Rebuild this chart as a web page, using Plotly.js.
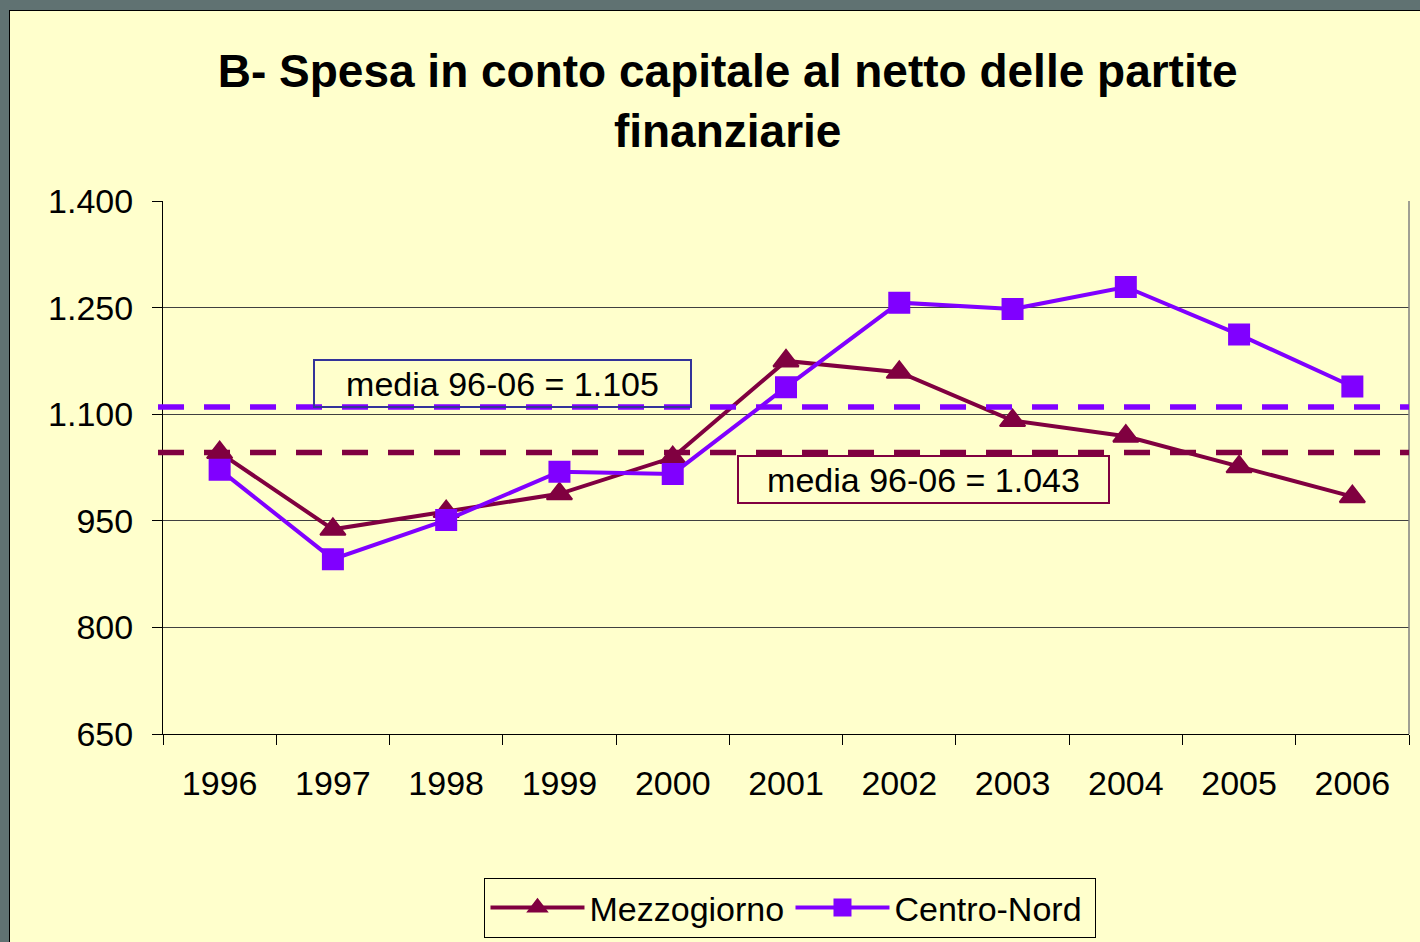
<!DOCTYPE html>
<html>
<head>
<meta charset="utf-8">
<script src="https://cdn.plot.ly/plotly-3.0.1.min.js"></script>
<style>
  html, body { margin: 0; padding: 0; width: 1420px; height: 942px; overflow: hidden; background: #607272; }
  #frame { position: absolute; left: 9px; top: 10px; width: 1411px; height: 932px; border-left: 1px solid #000; border-top: 1px solid #000; box-sizing: border-box; background: #FFFFCC; }
  #chart { position: absolute; left: 0; top: 0; width: 1410px; height: 931px; }
</style>
</head>
<body>
<div id="frame"><div id="chart"></div></div>
<script>
// ---- data ----
var years = ['1996','1997','1998','1999','2000','2001','2002','2003','2004','2005','2006'];
var mezzogiorno = [1046, 938, 963, 988, 1039, 1175, 1159, 1091, 1069, 1026, 984];
var centroNord  = [1022, 896, 951, 1019, 1016, 1138, 1257, 1248, 1279, 1212, 1139];
var seriesNames = ['Mezzogiorno', 'Centro-Nord'];
var mediaLevels = [1046, 1110];           // dashed average lines (Mezzogiorno, Centro-Nord)
var mediaLabels = ['media 96-06 = 1.043', 'media 96-06 = 1.105'];
var yTickVals = [650, 800, 950, 1100, 1250, 1400];
var yTickText = ['650', '800', '950', '1.100', '1.250', '1.400'];

var cMezz = '#800040';
var cCN = '#8000FF';
var font = 'Liberation Sans, Arial, Helvetica, sans-serif';

var traces = [
  { type: 'scatter', mode: 'lines+markers', name: seriesNames[0], x: years, y: mezzogiorno,
    line: { color: cMezz, width: 4 },
    marker: { symbol: 'triangle-up', size: 22, color: cMezz, line: { color: cMezz, width: 2 } } },
  { type: 'scatter', mode: 'lines+markers', name: seriesNames[1], x: years, y: centroNord,
    line: { color: cCN, width: 4 },
    marker: { symbol: 'square', size: 20, color: cCN, line: { color: cCN, width: 2 } } }
];

var layout = {
  width: 1410, height: 931,
  paper_bgcolor: 'rgba(0,0,0,0)', plot_bgcolor: 'rgba(0,0,0,0)',
  margin: { l: 153, r: 11, t: 190, b: 208, autoexpand: false },
  font: { family: font, color: '#000', size: 34 },
  title: { text: '<b>B- Spesa in conto capitale al netto delle partite<br>finanziarie</b>',
    font: { family: font, size: 46, color: '#000' },
    x: 0.509, xanchor: 'center', xref: 'container', y: 0.918, yanchor: 'top', yref: 'container' },
  showlegend: true,
  legend: { orientation: 'h', x: 0.5036, xanchor: 'center', y: -0.27, yanchor: 'top',
    bgcolor: 'rgba(0,0,0,0)', bordercolor: '#000', borderwidth: 1,
    font: { family: font, size: 34, color: '#000' }, itemwidth: 94, entrywidth: 196, traceorder: 'normal' },
  xaxis: { type: 'category', tickson: 'boundaries', ticks: 'outside', ticklen: 10, tickcolor: '#000', tickwidth: 1,
    showline: true, linecolor: '#000', linewidth: 1, showgrid: false, zeroline: false,
    tickfont: { family: font, size: 34, color: '#000' }, ticklabelstandoff: 19, range: [-0.5, 10.5], fixedrange: true },
  yaxis: { range: [650, 1400], tickvals: yTickVals, ticktext: yTickText, ticks: 'outside', ticklen: 10, tickcolor: '#000',
    showline: true, linecolor: '#000', linewidth: 1, showgrid: true, gridcolor: '#404040', gridwidth: 1, zeroline: false,
    tickfont: { family: font, size: 34, color: '#000' }, ticklabelstandoff: 12, fixedrange: true },
  shapes: [
    { type: 'line', xref: 'paper', yref: 'paper', x0: 1, x1: 1, y0: 0, y1: 1, line: { color: '#808080', width: 1.5 } },
    { type: 'line', xref: 'paper', yref: 'y', x0: -0.004, x1: 1, y0: mediaLevels[1], y1: mediaLevels[1],
      line: { color: cCN, width: 5.5, dash: '26px,20px' } },
    { type: 'line', xref: 'paper', yref: 'y', x0: -0.004, x1: 1, y0: mediaLevels[0], y1: mediaLevels[0],
      line: { color: cMezz, width: 5.5, dash: '26px,20px' } }
  ],
  annotations: [
    { xref: 'paper', yref: 'y', x: 0.2725, y: 1143, xanchor: 'center', yanchor: 'middle', text: mediaLabels[1], showarrow: false,
      font: { family: font, size: 34, color: '#000' }, width: 373, height: 43, borderpad: 1,
      bordercolor: '#333399', borderwidth: 2, bgcolor: 'rgba(0,0,0,0)' },
    { xref: 'paper', yref: 'y', x: 0.6104, y: 1008, xanchor: 'center', yanchor: 'middle', text: mediaLabels[0], showarrow: false,
      font: { family: font, size: 34, color: '#000' }, width: 367, height: 43, borderpad: 1,
      bordercolor: cMezz, borderwidth: 2, bgcolor: 'rgba(0,0,0,0)' }
  ]
};

Plotly.newPlot('chart', traces, layout, { displayModeBar: false, staticPlot: true });
</script>
</body>
</html>
